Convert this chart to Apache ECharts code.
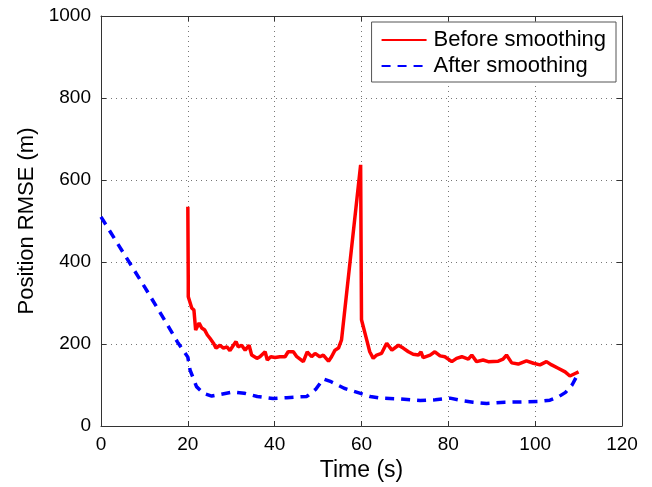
<!DOCTYPE html>
<html>
<head>
<meta charset="utf-8">
<script src="https://cdn.jsdelivr.net/npm/echarts@6/dist/echarts.min.js"></script>
<style>
  html, body { margin: 0; padding: 0; background: #fff; }
  #chart { width: 652px; height: 487px; }
</style>
</head>
<body>
<div id="chart"></div>
<script>
// RMSE before smoothing: [time s, rmse m]
var beforePts = [
  [20, 535], [20.1, 356], [20.1, 315], [20.9, 288], [21.4, 283], [21.8, 234], [22.6, 251],
  [23.2, 239], [23.9, 234], [24.5, 222], [25.1, 214], [25.9, 202], [26.5, 190], [27.4, 197],
  [28.2, 190], [29, 193], [29.7, 184], [30.5, 197], [31.1, 206], [31.6, 193], [32.4, 197],
  [33.2, 185], [34.1, 197], [34.7, 173], [35.9, 165], [36.6, 169], [37.8, 181], [38.3, 161],
  [39.1, 169], [40.1, 167], [41.2, 169], [42.4, 169], [43.1, 181], [44.3, 181], [45.1, 169],
  [46.6, 157], [47.5, 181], [48.5, 169], [49.3, 177], [50.4, 169], [51.2, 173], [52.4, 158],
  [53.1, 169], [53.9, 185], [54.7, 190], [55.4, 210], [59.8, 637], [60, 259], [61.2, 210],
  [61.9, 181], [62.7, 165], [63.5, 173], [64.6, 177], [65.8, 202], [67, 185], [68.5, 197],
  [69.6, 190], [70.8, 181], [71.9, 175], [73.1, 173], [73.7, 181], [74.2, 167], [75.8, 173],
  [76.9, 181], [78.1, 171], [79.2, 169], [80.8, 157], [81.9, 165], [83.1, 169], [84.6, 163],
  [85.4, 173], [86.5, 157], [88, 161], [89.2, 157], [91.5, 158], [92.6, 163], [93.4, 173],
  [94.6, 154], [96.1, 151], [98, 159], [99.6, 153], [101.1, 149], [102.6, 157], [103.8, 149],
  [105.3, 141], [106.9, 132], [108, 122], [109.2, 128], [110, 132]
];
// RMSE after smoothing
var afterPts = [
  [0, 510], [5, 425], [10, 340], [15, 252], [17.6, 205], [20, 168], [20.5, 137], [22, 96],
  [23.6, 80], [25.5, 73], [27.5, 77], [30.4, 83], [33, 80], [36, 72], [39.6, 67], [42.8, 69],
  [47.4, 72], [49.5, 90], [51.2, 115], [53, 108], [56, 92], [59.6, 80], [62, 72], [64.3, 68],
  [69, 66], [73.5, 62], [77, 64], [80.4, 68], [83, 62], [85.7, 58], [88.8, 55], [93, 58],
  [98, 59], [101, 60], [103.4, 63], [105.5, 72], [107, 82], [108.5, 100], [110, 130]
];
var xTicks = { min: 0, max: 120, step: 20 };
var yTicks = { min: 0, max: 1000, step: 200 };

var font = 'Liberation Sans, Arial, sans-serif';
var axisCol = '#333';

var chart = echarts.init(document.getElementById('chart'));

var baseAxis = {
  axisLine: { show: true, onZero: false, lineStyle: { color: axisCol, width: 1 } },
  axisTick: { show: true, inside: true, length: 5, lineStyle: { color: axisCol } },
};
var dots = { show: true, lineStyle: { color: '#777', type: [1, 4], width: 1 } };

var option = {
  backgroundColor: '#fff',
  animation: false,
  grid: { left: 101, right: 30, top: 16, bottom: 61 },
  legend: {
    orient: 'vertical',
    right: 36,
    top: 22,
    itemWidth: 45,
    itemHeight: 14,
    itemGap: 4,
    padding: [7, 10, 5, 9],
    backgroundColor: '#fff',
    borderColor: '#555',
    borderWidth: 1,
    borderRadius: 0,
    itemStyle: { opacity: 0 },
    textStyle: { fontFamily: font, fontSize: 22, color: '#000', padding: [0, 0, 0, 2] },
    data: ['Before smoothing', 'After smoothing']
  },
  xAxis: [
    Object.assign({}, baseAxis, {
      type: 'value', position: 'bottom', min: xTicks.min, max: xTicks.max, interval: xTicks.step,
      name: 'Time (s)', nameLocation: 'middle', nameGap: 31,
      nameTextStyle: { fontFamily: font, fontSize: 23, color: '#000' },
      axisLabel: { fontFamily: font, fontSize: 19, color: '#000', margin: 9 },
      splitLine: dots
    }),
    Object.assign({}, baseAxis, {
      type: 'value', position: 'top', min: xTicks.min, max: xTicks.max, interval: xTicks.step,
      axisLabel: { show: false }, splitLine: { show: false }
    })
  ],
  yAxis: [
    Object.assign({}, baseAxis, {
      type: 'value', position: 'left', min: yTicks.min, max: yTicks.max, interval: yTicks.step,
      name: 'Position RMSE (m)', nameLocation: 'middle', nameGap: 59,
      nameTextStyle: { fontFamily: font, fontSize: 22, color: '#000' },
      axisLabel: { fontFamily: font, fontSize: 19, color: '#000', margin: 10,
        formatter: function (v) { return String(v); } },
      splitLine: dots
    }),
    Object.assign({}, baseAxis, {
      type: 'value', position: 'right', min: yTicks.min, max: yTicks.max, interval: yTicks.step,
      axisLabel: { show: false }, splitLine: { show: false }
    })
  ],
  series: [
    {
      name: 'Before smoothing',
      type: 'line',
      symbol: 'none',
      data: beforePts,
      itemStyle: { color: '#ff0000' },
      lineStyle: { color: '#ff0000', width: 3.5 }
    },
    {
      name: 'After smoothing',
      type: 'line',
      symbol: 'none',
      data: afterPts,
      itemStyle: { color: '#0000ff' },
      lineStyle: { color: '#0000ff', width: 3.5, type: [9, 7] }
    }
  ]
};

chart.setOption(option);
</script>
</body>
</html>
